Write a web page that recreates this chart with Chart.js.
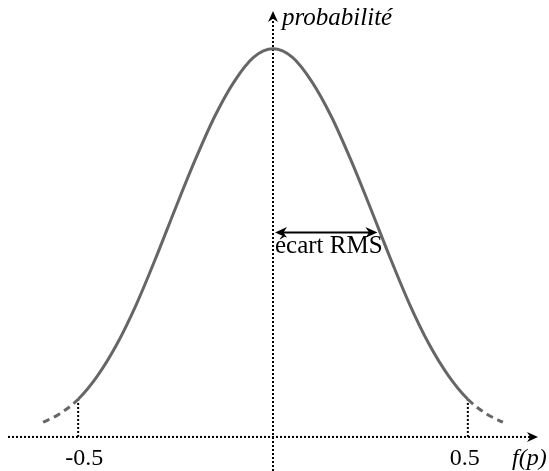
<!DOCTYPE html>
<html>
<head>
<meta charset="utf-8">
<script src="https://cdn.jsdelivr.net/npm/chart.js@4"></script>
<style>
  html, body { margin: 0; padding: 0; background: #fff; }
  #wrap { width: 549px; height: 471px; }
</style>
</head>
<body>
<div id="wrap"><canvas id="gauss"></canvas></div>
<script>
// values (peak normalised to 1)
const pValues = [-0.59, -0.55, -0.5, -0.45, -0.4, -0.35, -0.3, -0.25, -0.2, -0.15, -0.1, -0.05, 0,
                 0.05, 0.1, 0.15, 0.2, 0.25, 0.3, 0.35, 0.4, 0.45, 0.5, 0.55, 0.59];
const probValues = [0.038, 0.058, 0.097, 0.158, 0.24, 0.343, 0.463, 0.59, 0.713, 0.825, 0.915, 0.978, 1,
                    0.978, 0.915, 0.825, 0.713, 0.59, 0.463, 0.343, 0.24, 0.158, 0.097, 0.058, 0.038];
const tickValues = [-0.5, 0.5];
const tickLabels = ['-0.5', '0.5'];
const rmsSpan = [0, 0.268];
const rmsLevel = 0.527;

const serif = '"Liberation Serif", "DejaVu Serif", serif';

function dotted(ctx, x1, y1, x2, y2) {
    ctx.save();
    ctx.strokeStyle = '#000';
    ctx.lineWidth = 2;
    ctx.setLineDash([2, 2]);
    ctx.beginPath();
    ctx.moveTo(x1, y1);
    ctx.lineTo(x2, y2);
    ctx.stroke();
    ctx.restore();
}

function arrowHead(ctx, x, y, dx, dy, size) {
    // dx,dy: unit direction the arrow points to
    const px = -dy, py = dx;
    ctx.beginPath();
    ctx.moveTo(x, y);
    ctx.lineTo(x - dx * size + px * size * 0.45, y - dy * size + py * size * 0.45);
    ctx.lineTo(x - dx * size * 0.7, y - dy * size * 0.7);
    ctx.lineTo(x - dx * size - px * size * 0.45, y - dy * size - py * size * 0.45);
    ctx.closePath();
    ctx.fill();
}

const axesPlugin = {
    id: 'axesPlugin',
    beforeDatasetsDraw(chart) {
        const ctx = chart.ctx;
        const xs = chart.scales.x, ys = chart.scales.y;
        const y0 = ys.getPixelForValue(0);
        const x0 = xs.getPixelForValue(0);

        // x axis
        dotted(ctx, 8, y0, 530, y0);
        // y axis
        dotted(ctx, x0, chart.height, x0, 18);

        // verticals at +-0.5
        tickValues.forEach(v => {
            const i = pValues.indexOf(v);
            const xp = xs.getPixelForValue(v);
            dotted(ctx, xp, y0, xp, ys.getPixelForValue(probValues[i]));
        });
    },
    afterDatasetsDraw(chart) {
        const ctx = chart.ctx;
        const xs = chart.scales.x, ys = chart.scales.y;
        const y0 = ys.getPixelForValue(0);
        const x0 = xs.getPixelForValue(0);

        ctx.save();
        ctx.fillStyle = '#000';
        arrowHead(ctx, 538, y0, 1, 0, 11);
        arrowHead(ctx, x0, 11, 0, -1, 11);

        ctx.font = '24px ' + serif;
        ctx.textAlign = 'center';
        ctx.textBaseline = 'alphabetic';
        const shift = [6, -3];
        tickValues.forEach((v, i) => {
            ctx.fillText(tickLabels[i], xs.getPixelForValue(v) + shift[i], 465);
        });

        ctx.textAlign = 'left';
        ctx.font = 'italic 25px ' + serif;
        ctx.fillText('probabilité', x0 + 9, 25);
        ctx.font = 'italic 24px ' + serif;
        ctx.fillText('f(p)', 512, 465);

        // RMS arrow
        const ya = ys.getPixelForValue(rmsLevel);
        const xa = xs.getPixelForValue(rmsSpan[0]) + 2;
        const xb = xs.getPixelForValue(rmsSpan[1]);
        ctx.strokeStyle = '#000';
        ctx.lineWidth = 2;
        ctx.beginPath();
        ctx.moveTo(xa + 6, ya);
        ctx.lineTo(xb - 6, ya);
        ctx.stroke();
        arrowHead(ctx, xa, ya, -1, 0, 12);
        arrowHead(ctx, xb, ya, 1, 0, 12);

        ctx.font = '25px ' + serif;
        ctx.fillText('écart RMS', xa, ya + 21);
        ctx.restore();
    }
};

new Chart(document.getElementById('gauss'), {
    type: 'line',
    data: {
        datasets: [{
            data: pValues.map((p, i) => ({ x: p, y: probValues[i] })),
            borderColor: '#666666',
            borderWidth: 3,
            pointRadius: 0,
            cubicInterpolationMode: 'monotone',
            segment: {
                borderDash: c => (c.p1.parsed.x <= -0.5) || (c.p0.parsed.x >= 0.5) ? [7, 5] : undefined
            }
        }]
    },
    options: {
        responsive: true,
        maintainAspectRatio: false,
        animation: false,
        layout: { padding: { left: 8, right: 11, top: 10, bottom: 3 } },
        plugins: { legend: { display: false }, tooltip: { enabled: false } },
        scales: {
            x: { type: 'linear', min: -0.68, max: 0.68, display: false },
            y: { min: -0.08, max: 1.1, display: false }
        }
    },
    plugins: [axesPlugin]
});
</script>
</body>
</html>
